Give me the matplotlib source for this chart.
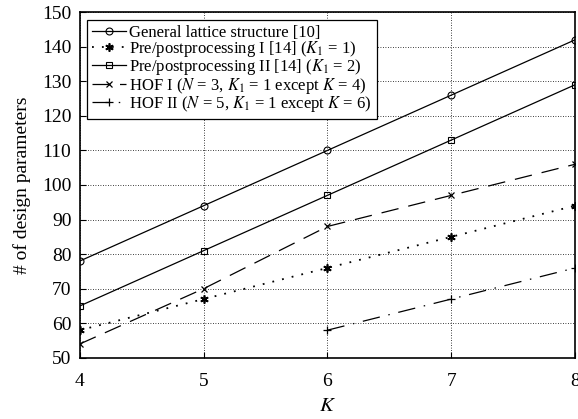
import matplotlib
matplotlib.use("Agg")
import matplotlib.pyplot as plt

plt.rcParams['font.family'] = ['Liberation Serif', 'DejaVu Serif']
plt.rcParams['mathtext.fontset'] = 'stix'

k_all = [4, 5, 6, 7, 8]
general = [78, 94, 110, 126, 142]
pre_1 = [58, 67, 76, 85, 94]
pre_2 = [65, 81, 97, 113, 129]
hof_1 = [54, 70, 88, 97, 106]
k_hof2 = [6, 7, 8]
hof_2 = [58, 67, 76]

labels = [
    'General lattice structure [10]',
    r'Pre/postprocessing I [14] ($K_1$ = 1)',
    r'Pre/postprocessing II [14] ($K_1$ = 2)',
    r'HOF I ($N$ = 3, $K_1$ = 1 except $K$ = 4)',
    r'HOF II ($N$ = 5, $K_1$ = 1 except $K$ = 6)',
]

fig = plt.figure(figsize=(5.78, 4.19), dpi=100)
ax = fig.add_axes([0.138, 0.146, 0.857, 0.825])

lw = 0.9
ax.plot(k_all, general, color='black', lw=lw, ls='-', marker='o', ms=5,
        mfc='none', mew=0.8, label=labels[0])
ax.plot(k_all, pre_1, color='black', lw=1.3, ls=(0, (1, 4.5)), marker=(6, 2, 0),
        ms=6, mew=1.2, label=labels[1])
ax.plot(k_all, pre_2, color='black', lw=lw, ls='-', marker='s', ms=4.5,
        mfc='none', mew=0.8, label=labels[2])
ax.plot(k_all, hof_1, color='black', lw=lw, ls=(0, (14, 8)), marker='x', ms=5,
        mew=0.9, label=labels[3])
ax.plot(k_hof2, hof_2, color='black', lw=lw, ls=(0, (14, 7, 1.2, 7)), marker='+',
        ms=6, mew=0.9, label=labels[4])

ax.set_xlim(4, 8)
ax.set_ylim(50, 150)
ax.set_xticks(k_all)
ax.set_yticks(range(50, 151, 10))
ax.grid(True, ls=(0, (1, 2)), color='black', lw=0.6)
ax.tick_params(direction='in', length=4, labelsize=14, pad=6)
ax.tick_params(axis='x', pad=11)
for s in ax.spines.values():
    s.set_linewidth(1.2)

ax.set_xlabel('$K$', fontsize=15, labelpad=5)
ax.set_ylabel('# of design parameters', fontsize=14, labelpad=8)

leg = ax.legend(loc='upper left', fontsize=12, frameon=True, fancybox=False,
                edgecolor='black', framealpha=1, handlelength=2.0,
                handletextpad=0.2, labelspacing=-0.1, borderpad=0.3,
                borderaxespad=0.45)
leg.get_frame().set_linewidth(0.9)

fig.savefig('out.png', dpi=100)
